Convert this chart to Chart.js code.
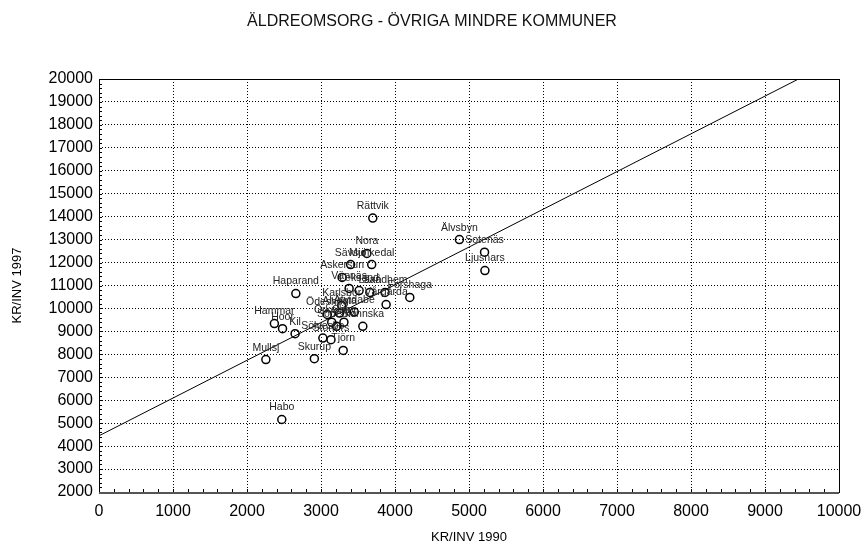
<!DOCTYPE html>
<html>
<head>
<meta charset="utf-8">
<script src="https://cdn.jsdelivr.net/npm/chart.js@4.4.1/dist/chart.umd.min.js"></script>
<style>
html,body{margin:0;padding:0;background:#fff;}
</style>
</head>
<body>
<canvas id="chart" width="862" height="548"></canvas>
<script>
// kommun names as they are printed in the plot (cut to 8 letters)
var kommun = ["Rättvik","Nora","Sävsjö","Munkedal","Askersun","Vännäs","Leksand","Laxå",
              "Sandhem","Forshaga","Vårgårda","Haparand","Karlsbor","Åtvidabe","Alvesta","Örkellju",
              "Ödeshög","Skinnska","Osby","Söderkö","Hammar","Hoor","Kil","Sölvesbo",
              "Storfors","Tjörn","Skurup","Mullsj","Habo","Älvsbyn","Sotenäs","Ljusnars"];
var kr1990 = [3700,3620,3400,3685,3285,3380,3515,3660,
              3865,4200,3880,2660,3280,3450,3250,3145,
              3085,3565,3310,3210,2370,2480,2650,3025,
              3135,3300,2910,2255,2470,4870,5210,5215];
var kr1997 = [13940,12400,11910,11910,11350,10870,10780,10700,
              10700,10480,10170,10650,10130,9840,9800,9400,
              9740,9220,9400,9220,9340,9120,8900,8710,
              8640,8170,7810,7770,5160,13000,12450,11650];

// fitted line
var regIntercept = 4450;
var regSlope = 1.645;

var xMin = 0, xMax = 10000, xStep = 1000;
var yMin = 2000, yMax = 20000, yStep = 1000;
var minorStep = 200;

var chartTitle = "ÄLDREOMSORG - ÖVRIGA MINDRE KOMMUNER";
var fontFam = "Arial, 'Liberation Sans', sans-serif";

function makePoints(){
  var pts = [];
  for(var i=0;i<kommun.length;i++){
    pts.push({x:kr1990[i], y:kr1997[i]});
  }
  return pts;
}

function makeRegLine(){
  var xEnd = (yMax - regIntercept)/regSlope;
  if(xEnd > xMax) xEnd = xMax;
  return [{x:xMin, y:regIntercept + regSlope*xMin}, {x:xEnd, y:regIntercept + regSlope*xEnd}];
}

function plainNumber(value){
  return String(value);
}

// names above the circles
var labelPlugin = {
  id:'pointLabels',
  afterDatasetsDraw:function(chart){
    var ctx = chart.ctx;
    var meta = chart.getDatasetMeta(0);
    ctx.save();
    ctx.font = "10.5px " + fontFam;
    ctx.fillStyle = "#222";
    ctx.textAlign = "center";
    ctx.textBaseline = "middle";
    for(var i=0;i<meta.data.length;i++){
      var p = meta.data[i];
      ctx.fillText(kommun[i], p.x, p.y - 12);
    }
    ctx.restore();
  }
};

// title over the whole picture (centred on the page, not on the plot)
var titlePlugin = {
  id:'pageTitle',
  afterDraw:function(chart){
    var ctx = chart.ctx;
    ctx.save();
    ctx.font = "16px " + fontFam;
    ctx.fillStyle = "#111";
    ctx.textAlign = "center";
    ctx.textBaseline = "middle";
    ctx.fillText(chartTitle, 432, 22);
    ctx.restore();
  }
};

// box round the plot + small inner ticks
var framePlugin = {
  id:'frame',
  afterDraw:function(chart){
    var ctx = chart.ctx;
    var a = chart.chartArea;
    var xs = chart.scales.x, ys = chart.scales.y;
    ctx.save();
    ctx.strokeStyle = "#000";
    ctx.lineWidth = 1;
    ctx.beginPath();
    for(var v=xMin; v<=xMax; v+=minorStep){
      var px = Math.round(xs.getPixelForValue(v)) + 0.5;
      ctx.moveTo(px, a.bottom);
      ctx.lineTo(px, a.bottom - 3);
    }
    for(var w=yMin; w<=yMax; w+=minorStep){
      var py = Math.round(ys.getPixelForValue(w)) + 0.5;
      ctx.moveTo(a.left, py);
      ctx.lineTo(a.left + 3, py);
    }
    ctx.stroke();
    ctx.strokeRect(Math.round(a.left)+0.5, Math.round(a.top)+0.5,
                   Math.round(a.right-a.left), Math.round(a.bottom-a.top));
    ctx.lineWidth = 2;
    ctx.strokeStyle = "#555";
    ctx.beginPath();
    ctx.moveTo(Math.round(a.left), Math.round(a.bottom)+1);
    ctx.lineTo(Math.round(a.right), Math.round(a.bottom)+1);
    ctx.stroke();
    ctx.restore();
  }
};

var ctx = document.getElementById("chart");
var chart = new Chart(ctx,{
  type:'scatter',
  data:{
    datasets:[{
      label:"kommuner",
      data: makePoints(),
      pointStyle:'circle',
      pointRadius:4,
      pointBorderWidth:1.5,
      pointBorderColor:"#000",
      pointBackgroundColor:"rgba(0,0,0,0)",
      showLine:false
    },{
      type:'line',
      label:"regression",
      data: makeRegLine(),
      borderColor:"#000",
      borderWidth:1,
      pointRadius:0,
      fill:false
    }]
  },
  options:{
    responsive:false,
    animation:false,
    layout:{padding:{left:0, right:23, top:79, bottom:0}},
    plugins:{
      legend:{display:false},
      tooltip:{enabled:false},
      title:{display:false}
    },
    scales:{
      x:{
        type:'linear',
        min:xMin, max:xMax,
        afterFit:function(scale){
          scale.height = 56;
          scale.paddingLeft = 0;
          scale.paddingRight = 0;
        },
        ticks:{stepSize:xStep, color:"#000", padding:10, maxRotation:0,
               font:{family:fontFam, size:16}, callback:plainNumber},
        grid:{color:"#000", lineWidth:1, drawTicks:false},
        border:{display:false, dash:[1,2]},
        title:{display:true, text:"KR/INV 1990", color:"#000",
               font:{family:fontFam, size:13}, padding:{top:4, bottom:3}}
      },
      y:{
        type:'linear',
        min:yMin, max:yMax,
        afterFit:function(scale){
          scale.width = 99;
          scale.paddingTop = 0;
          scale.paddingBottom = 0;
        },
        ticks:{stepSize:yStep, color:"#000", padding:6,
               font:{family:fontFam, size:16}, callback:plainNumber},
        grid:{color:"#000", lineWidth:1, drawTicks:false},
        border:{display:false, dash:[1,2]},
        title:{display:true, text:"KR/INV 1997", color:"#000",
               font:{family:fontFam, size:13}, padding:{top:10, bottom:4}}
      }
    }
  },
  plugins:[labelPlugin, framePlugin, titlePlugin]
});
</script>
</body>
</html>
